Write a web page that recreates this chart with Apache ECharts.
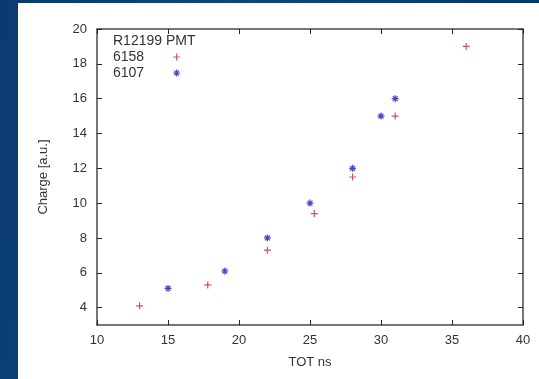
<!DOCTYPE html>
<html>
<head>
<meta charset="utf-8">
<script src="https://cdn.jsdelivr.net/npm/echarts@6/dist/echarts.min.js"></script>
<style>
  html, body { margin: 0; padding: 0; }
  body {
    width: 539px; height: 379px; overflow: hidden; position: relative;
    background: linear-gradient(100deg, #0a3b70 0%, #0d4580 40%, #063568 100%);
  }
  #chart {
    position: absolute; left: 18px; top: 3px; width: 521px; height: 376px;
    background: #ffffff;
  }
</style>
</head>
<body>
<div id="chart"></div>
<script>
  // R12199 PMT, charge vs time over threshold
  const tot6158 = [13, 17.8, 22, 25.3, 28, 31, 36]
  const charge6158 = [4.1, 5.3, 7.3, 9.4, 11.5, 15, 19]
  const tot6107 = [15, 19, 22, 25, 28, 30, 31]
  const charge6107 = [5.1, 6.1, 8, 10, 12, 15, 16]
  const yTicks = [4, 6, 8, 10, 12, 14, 16, 18, 20]

  const redColor = '#c62a2a'
  const blueColor = '#1a1ab8'
  const frameColor = '#4a4a4a'
  const textColor = '#333333'
  const plusPath = 'path://M0,5L10,5M5,0L5,10'
  const starPath = 'path://M0,5L10,5M5,0L5,10M1.5,1.5L8.5,8.5M1.5,8.5L8.5,1.5'

  const chart = echarts.init(document.getElementById('chart'))

  const frameLine = { show: true, onZero: false, lineStyle: { color: frameColor, width: 1.5 } }
  const innerTick = { show: true, inside: true, length: 5, lineStyle: { color: '#222', width: 1 } }

  const option = {
    animation: false,
    backgroundColor: 'transparent',
    textStyle: { fontFamily: 'Liberation Sans, Arial, sans-serif' },
    title: {
      text: 'R12199 PMT',
      left: 95,
      top: 31,
      padding: 0,
      textStyle: { fontSize: 14, fontWeight: 'normal', color: textColor }
    },
    legend: {
      orient: 'vertical',
      left: 95,
      top: 47,
      padding: 0,
      align: 'right',
      itemGap: 2,
      itemWidth: 7,
      itemHeight: 7,
      textStyle: { fontSize: 14, color: textColor, padding: [0, 24, 0, 0] },
      data: [
        { name: '6158', icon: plusPath, itemStyle: { color: 'none', borderColor: redColor, borderWidth: 1.2 } },
        { name: '6107', icon: starPath, itemStyle: { color: 'none', borderColor: blueColor, borderWidth: 1.2 } }
      ]
    },
    grid: { left: 79, right: 16, top: 26, bottom: 54 },
    xAxis: [
      {
        type: 'value',
        min: 10,
        max: 40,
        interval: 5,
        name: 'TOT ns',
        nameLocation: 'middle',
        nameGap: 31,
        nameTextStyle: { fontSize: 13, color: textColor },
        axisLine: frameLine,
        axisTick: innerTick,
        axisLabel: { fontSize: 13, color: textColor, margin: 9 },
        splitLine: { show: false }
      },
      {
        type: 'value',
        position: 'top',
        min: 10,
        max: 40,
        interval: 5,
        axisLine: frameLine,
        axisTick: innerTick,
        axisLabel: { show: false },
        splitLine: { show: false }
      }
    ],
    yAxis: [
      {
        type: 'value',
        min: 3,
        max: 20,
        name: 'Charge [a.u.]',
        nameLocation: 'middle',
        nameGap: 47,
        nameTextStyle: { fontSize: 13, color: textColor },
        axisLine: frameLine,
        axisTick: Object.assign({ customValues: yTicks }, innerTick),
        axisLabel: { fontSize: 13, color: textColor, margin: 10, customValues: yTicks },
        splitLine: { show: false }
      },
      {
        type: 'value',
        position: 'right',
        min: 3,
        max: 20,
        axisLine: frameLine,
        axisTick: Object.assign({ customValues: yTicks }, innerTick),
        axisLabel: { show: false, customValues: yTicks },
        splitLine: { show: false }
      }
    ],
    series: [
      {
        name: '6158',
        type: 'scatter',
        symbol: plusPath,
        symbolSize: 7,
        itemStyle: { color: 'none', borderColor: redColor, borderWidth: 1.2 },
        data: tot6158.map((x, i) => [x, charge6158[i]])
      },
      {
        name: '6107',
        type: 'scatter',
        symbol: starPath,
        symbolSize: 7,
        itemStyle: { color: 'none', borderColor: blueColor, borderWidth: 1.2 },
        data: tot6107.map((x, i) => [x, charge6107[i]])
      }
    ]
  }

  chart.setOption(option)
</script>
</body>
</html>
